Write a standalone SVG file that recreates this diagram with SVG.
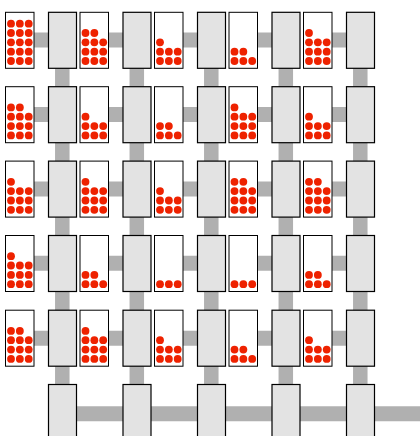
<svg xmlns="http://www.w3.org/2000/svg" xmlns:xlink="http://www.w3.org/1999/xlink" width="420" height="436" viewBox="0 0 420 436">
<style>
.card{fill:#ffffff;stroke:#000000;stroke-width:1}
.box{fill:#e3e3e3;stroke:#000000;stroke-width:1.2}
.h{stroke:#b0b0b0;stroke-width:15;fill:none}
.v{stroke:#b0b0b0;stroke-width:14.5;fill:none}
.dot{fill:#ee2200}
</style>
<defs>
<g id="tri" class="dot"><circle cx="5.5" cy="0" r="3.9"/><circle cx="14.35" cy="0" r="3.9"/><circle cx="23.2" cy="0" r="3.9"/></g>
<g id="duo" class="dot"><circle cx="5.5" cy="0" r="3.9"/><circle cx="14.35" cy="0" r="3.9"/></g>
<g id="one" class="dot"><circle cx="5.5" cy="0" r="3.9"/></g>
<g id="d3"><use href="#tri" y="48.7"/></g>
<g id="d5"><use href="#tri" y="48.7"/><use href="#duo" y="39.4"/></g>
<g id="d7"><use href="#tri" y="48.7"/><use href="#tri" y="39.4"/><use href="#one" y="30"/></g>
<g id="d10"><use href="#tri" y="48.7"/><use href="#tri" y="39.4"/><use href="#tri" y="30"/><use href="#one" y="20.7"/></g>
<g id="d11"><use href="#tri" y="48.7"/><use href="#tri" y="39.4"/><use href="#tri" y="30"/><use href="#duo" y="20.7"/></g>
<g id="d15"><use href="#tri" y="48.7"/><use href="#tri" y="39.4"/><use href="#tri" y="30"/><use href="#tri" y="20.7"/><use href="#tri" y="11.4"/></g>
</defs>
<rect width="420" height="436" fill="#ffffff"/>
<g id="connectors">
<!-- horizontal card to box, rows 1-5 -->
<line class="h" x1="19.5" y1="40.1" x2="62.5" y2="40.1"/>
<line class="h" x1="94" y1="40.1" x2="137" y2="40.1"/>
<line class="h" x1="168.5" y1="40.1" x2="211.5" y2="40.1"/>
<line class="h" x1="243" y1="40.1" x2="286" y2="40.1"/>
<line class="h" x1="317.5" y1="40.1" x2="360.5" y2="40.1"/>
<line class="h" x1="19.5" y1="114.5" x2="62.5" y2="114.5"/>
<line class="h" x1="94" y1="114.5" x2="137" y2="114.5"/>
<line class="h" x1="168.5" y1="114.5" x2="211.5" y2="114.5"/>
<line class="h" x1="243" y1="114.5" x2="286" y2="114.5"/>
<line class="h" x1="317.5" y1="114.5" x2="360.5" y2="114.5"/>
<line class="h" x1="19.5" y1="188.9" x2="62.5" y2="188.9"/>
<line class="h" x1="94" y1="188.9" x2="137" y2="188.9"/>
<line class="h" x1="168.5" y1="188.9" x2="211.5" y2="188.9"/>
<line class="h" x1="243" y1="188.9" x2="286" y2="188.9"/>
<line class="h" x1="317.5" y1="188.9" x2="360.5" y2="188.9"/>
<line class="h" x1="19.5" y1="263.3" x2="62.5" y2="263.3"/>
<line class="h" x1="94" y1="263.3" x2="137" y2="263.3"/>
<line class="h" x1="168.5" y1="263.3" x2="211.5" y2="263.3"/>
<line class="h" x1="243" y1="263.3" x2="286" y2="263.3"/>
<line class="h" x1="317.5" y1="263.3" x2="360.5" y2="263.3"/>
<line class="h" x1="19.5" y1="338.3" x2="62.5" y2="338.3"/>
<line class="h" x1="94" y1="338.3" x2="137" y2="338.3"/>
<line class="h" x1="168.5" y1="338.3" x2="211.5" y2="338.3"/>
<line class="h" x1="243" y1="338.3" x2="286" y2="338.3"/>
<line class="h" x1="317.5" y1="338.3" x2="360.5" y2="338.3"/>
<!-- bottom row box to box -->
<line class="h" x1="62.5" y1="413.8" x2="137" y2="413.8"/>
<line class="h" x1="137" y1="413.8" x2="211.5" y2="413.8"/>
<line class="h" x1="211.5" y1="413.8" x2="286" y2="413.8"/>
<line class="h" x1="286" y1="413.8" x2="360.5" y2="413.8"/>
<line class="h" x1="360.5" y1="413.8" x2="420" y2="413.8"/>
<!-- vertical box to box -->
<line class="v" x1="62.3" y1="40" x2="62.3" y2="412"/>
<line class="v" x1="136.8" y1="40" x2="136.8" y2="412"/>
<line class="v" x1="211.3" y1="40" x2="211.3" y2="412"/>
<line class="v" x1="285.8" y1="40" x2="285.8" y2="412"/>
<line class="v" x1="360.3" y1="40" x2="360.3" y2="412"/>
</g>
<g id="r1c1"><rect class="card" x="5.5" y="12.3" width="28.5" height="56"/><use href="#d15" x="5.5" y="12.3"/></g>
<g id="r1c2"><rect class="card" x="80" y="12.3" width="28.5" height="56"/><use href="#d11" x="80" y="12.3"/></g>
<g id="r1c3"><rect class="card" x="154.5" y="12.3" width="28.5" height="56"/><use href="#d7" x="154.5" y="12.3"/></g>
<g id="r1c4"><rect class="card" x="229" y="12.3" width="28.5" height="56"/><use href="#d5" x="229" y="12.3"/></g>
<g id="r1c5"><rect class="card" x="303.5" y="12.3" width="28.5" height="56"/><use href="#d10" x="303.5" y="12.3"/></g>
<g id="r2c1"><rect class="card" x="5.5" y="86.7" width="28.5" height="56"/><use href="#d11" x="5.5" y="86.7"/></g>
<g id="r2c2"><rect class="card" x="80" y="86.7" width="28.5" height="56"/><use href="#d7" x="80" y="86.7"/></g>
<g id="r2c3"><rect class="card" x="154.5" y="86.7" width="28.5" height="56"/><use href="#d5" x="154.5" y="86.7"/></g>
<g id="r2c4"><rect class="card" x="229" y="86.7" width="28.5" height="56"/><use href="#d10" x="229" y="86.7"/></g>
<g id="r2c5"><rect class="card" x="303.5" y="86.7" width="28.5" height="56"/><use href="#d7" x="303.5" y="86.7"/></g>
<g id="r3c1"><rect class="card" x="5.5" y="161.1" width="28.5" height="56"/><use href="#d10" x="5.5" y="161.1"/></g>
<g id="r3c2"><rect class="card" x="80" y="161.1" width="28.5" height="56"/><use href="#d10" x="80" y="161.1"/></g>
<g id="r3c3"><rect class="card" x="154.5" y="161.1" width="28.5" height="56"/><use href="#d7" x="154.5" y="161.1"/></g>
<g id="r3c4"><rect class="card" x="229" y="161.1" width="28.5" height="56"/><use href="#d11" x="229" y="161.1"/></g>
<g id="r3c5"><rect class="card" x="303.5" y="161.1" width="28.5" height="56"/><use href="#d11" x="303.5" y="161.1"/></g>
<g id="r4c1"><rect class="card" x="5.5" y="235.5" width="28.5" height="56"/><use href="#d10" x="5.5" y="235.5"/></g>
<g id="r4c2"><rect class="card" x="80" y="235.5" width="28.5" height="56"/><use href="#d5" x="80" y="235.5"/></g>
<g id="r4c3"><rect class="card" x="154.5" y="235.5" width="28.5" height="56"/><use href="#d3" x="154.5" y="235.5"/></g>
<g id="r4c4"><rect class="card" x="229" y="235.5" width="28.5" height="56"/><use href="#d3" x="229" y="235.5"/></g>
<g id="r4c5"><rect class="card" x="303.5" y="235.5" width="28.5" height="56"/><use href="#d5" x="303.5" y="235.5"/></g>
<g id="r5c1"><rect class="card" x="5.5" y="310.2" width="28.5" height="56"/><use href="#d11" x="5.5" y="310.2"/></g>
<g id="r5c2"><rect class="card" x="80" y="310.2" width="28.5" height="56"/><use href="#d10" x="80" y="310.2"/></g>
<g id="r5c3"><rect class="card" x="154.5" y="310.2" width="28.5" height="56"/><use href="#d7" x="154.5" y="310.2"/></g>
<g id="r5c4"><rect class="card" x="229" y="310.2" width="28.5" height="56"/><use href="#d5" x="229" y="310.2"/></g>
<g id="r5c5"><rect class="card" x="303.5" y="310.2" width="28.5" height="56"/><use href="#d7" x="303.5" y="310.2"/></g>
<g id="b1c1"><rect class="box" x="48.5" y="12.3" width="28" height="56"/></g>
<g id="b1c2"><rect class="box" x="123" y="12.3" width="28" height="56"/></g>
<g id="b1c3"><rect class="box" x="197.5" y="12.3" width="28" height="56"/></g>
<g id="b1c4"><rect class="box" x="272" y="12.3" width="28" height="56"/></g>
<g id="b1c5"><rect class="box" x="346.5" y="12.3" width="28" height="56"/></g>
<g id="b2c1"><rect class="box" x="48.5" y="86.7" width="28" height="56"/></g>
<g id="b2c2"><rect class="box" x="123" y="86.7" width="28" height="56"/></g>
<g id="b2c3"><rect class="box" x="197.5" y="86.7" width="28" height="56"/></g>
<g id="b2c4"><rect class="box" x="272" y="86.7" width="28" height="56"/></g>
<g id="b2c5"><rect class="box" x="346.5" y="86.7" width="28" height="56"/></g>
<g id="b3c1"><rect class="box" x="48.5" y="161.1" width="28" height="56"/></g>
<g id="b3c2"><rect class="box" x="123" y="161.1" width="28" height="56"/></g>
<g id="b3c3"><rect class="box" x="197.5" y="161.1" width="28" height="56"/></g>
<g id="b3c4"><rect class="box" x="272" y="161.1" width="28" height="56"/></g>
<g id="b3c5"><rect class="box" x="346.5" y="161.1" width="28" height="56"/></g>
<g id="b4c1"><rect class="box" x="48.5" y="235.5" width="28" height="56"/></g>
<g id="b4c2"><rect class="box" x="123" y="235.5" width="28" height="56"/></g>
<g id="b4c3"><rect class="box" x="197.5" y="235.5" width="28" height="56"/></g>
<g id="b4c4"><rect class="box" x="272" y="235.5" width="28" height="56"/></g>
<g id="b4c5"><rect class="box" x="346.5" y="235.5" width="28" height="56"/></g>
<g id="b5c1"><rect class="box" x="48.5" y="310.2" width="28" height="56"/></g>
<g id="b5c2"><rect class="box" x="123" y="310.2" width="28" height="56"/></g>
<g id="b5c3"><rect class="box" x="197.5" y="310.2" width="28" height="56"/></g>
<g id="b5c4"><rect class="box" x="272" y="310.2" width="28" height="56"/></g>
<g id="b5c5"><rect class="box" x="346.5" y="310.2" width="28" height="56"/></g>
<g id="b6c1"><rect class="box" x="48.5" y="384.5" width="28" height="60"/></g>
<g id="b6c2"><rect class="box" x="123" y="384.5" width="28" height="60"/></g>
<g id="b6c3"><rect class="box" x="197.5" y="384.5" width="28" height="60"/></g>
<g id="b6c4"><rect class="box" x="272" y="384.5" width="28" height="60"/></g>
<g id="b6c5"><rect class="box" x="346.5" y="384.5" width="28" height="60"/></g>
</svg>
